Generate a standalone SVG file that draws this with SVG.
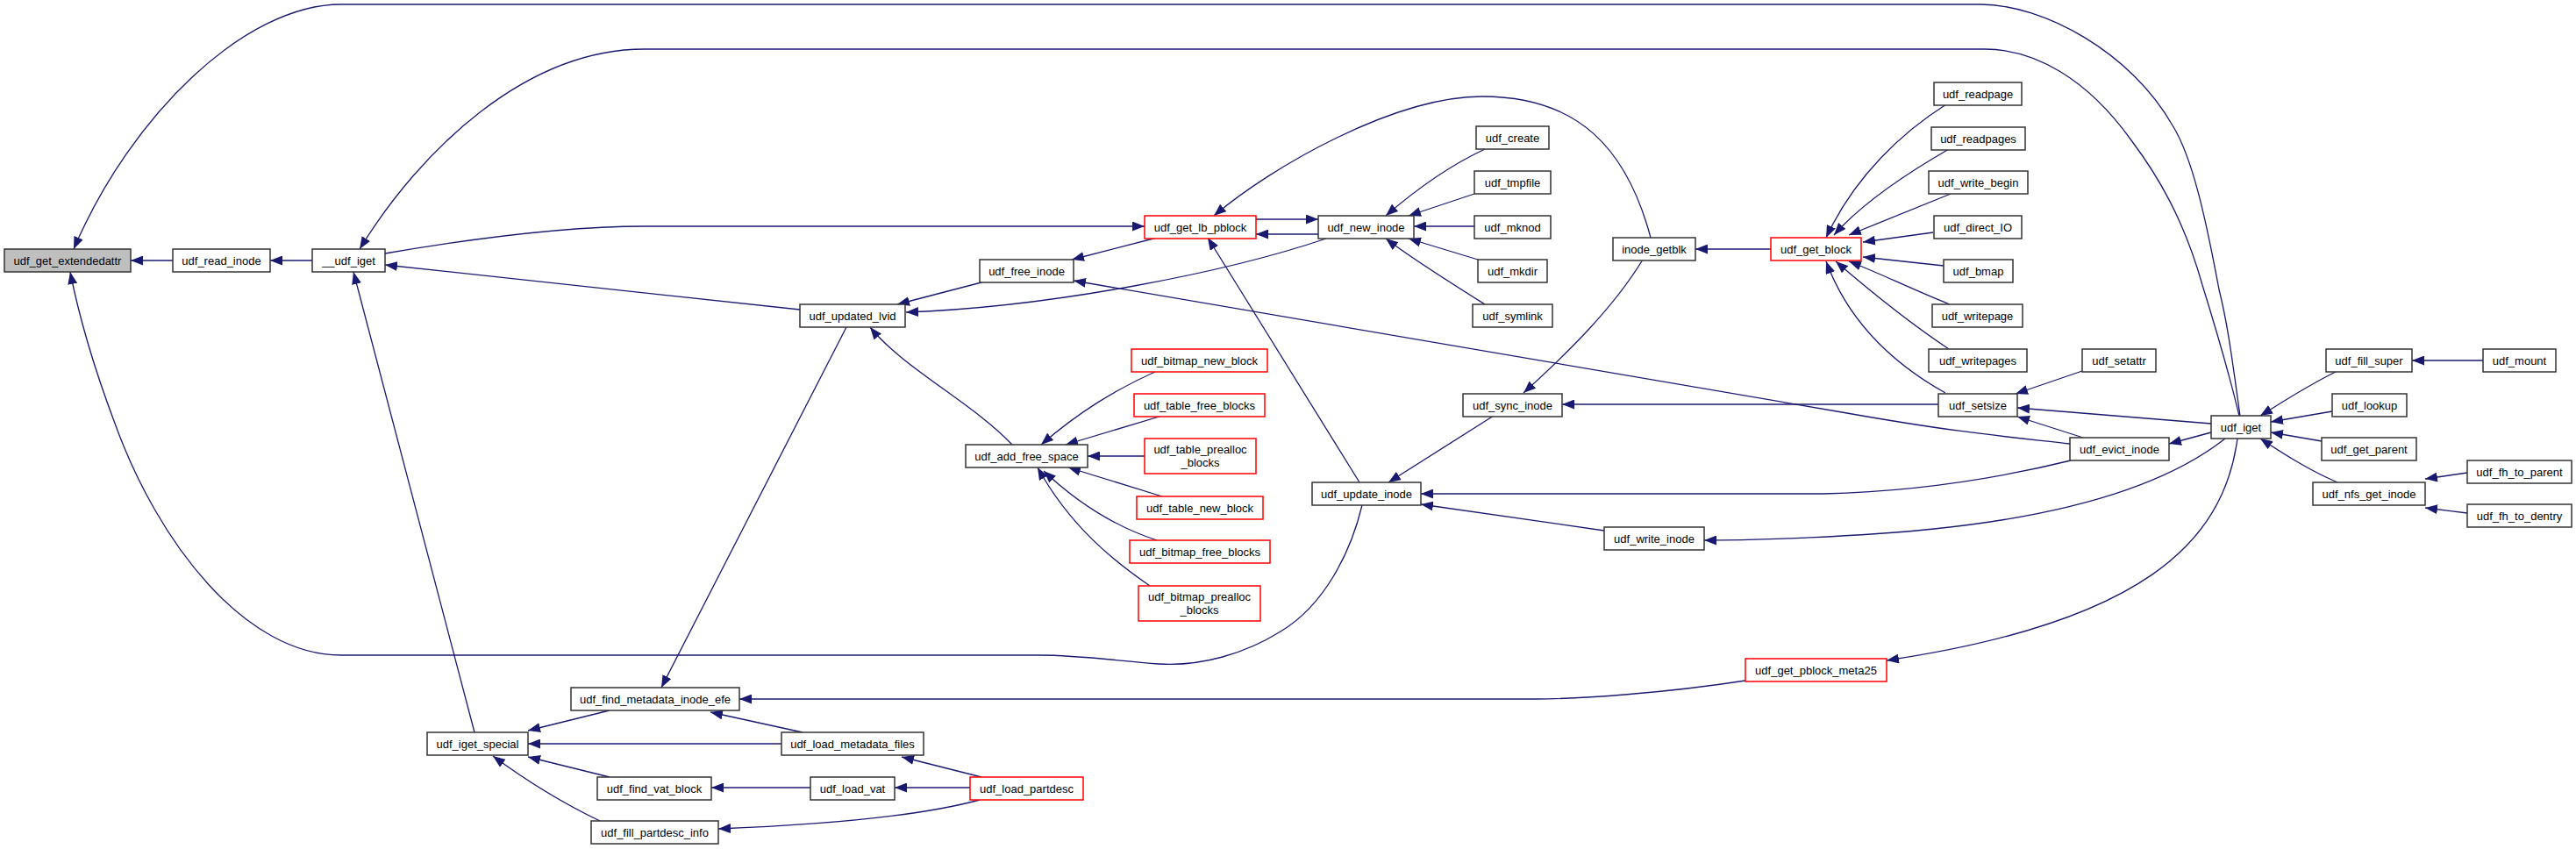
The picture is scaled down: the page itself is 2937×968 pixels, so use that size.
<svg xmlns="http://www.w3.org/2000/svg" width="2937" height="968" viewBox="0 0 2937 968">
<defs>
<style>
.n rect{fill:#fff;stroke:#333;stroke-width:1.5}
.n.r rect{stroke:#ff0000}
.n.g rect{fill:#bfbfbf}
.n text{font-family:"Liberation Sans",Arial,sans-serif;font-size:13px;fill:#000;text-anchor:middle}
#edges path{fill:none;stroke:#191970;stroke-width:1.3;marker-end:url(#a)}
</style>
<marker id="a" markerUnits="userSpaceOnUse" markerWidth="14" markerHeight="11" viewBox="0 0 14 11" refX="14" refY="5.5" orient="auto"><path d="M0,0L14,5.5L0,11z" fill="#191970"/></marker>
</defs>
<rect width="2937" height="968" fill="#fff"/>
<g id="edges">
<path d="M197,297L149,297"/>
<path d="M356,297L308,297"/>
<path d="M2554,474C2545,410 2540,370 2530,330C2515,250 2500,180 2477,143C2430,60 2330,5 2258,5L389,5C280,5 150,130 84,284"/>
<path d="M2553,474C2540,420 2525,370 2511,325C2490,250 2460,200 2430,160C2380,90 2320,56 2263,56L735,56C600,56 480,170 410,284"/>
<path d="M439,289C550,270 650,258 735,258L1305,258"/>
<path d="M912,353L439,302"/>
<path d="M1553,576C1540,630 1510,690 1460,720C1420,745 1370,760 1321,757C1270,753 1230,747 1185,747L389,747C280,747 180,620 130,480C100,400 88,350 80,310"/>
<path d="M541,835L403,310"/>
<path d="M1503,267L1432,267"/>
<path d="M1432,250L1503,250"/>
<path d="M1882,271C1855,170 1800,110 1690,110C1590,110 1450,190 1384,246"/>
<path d="M1319,271L1222,296"/>
<path d="M2360,506C2280,497 2230,493 2100,470L1224,320"/>
<path d="M1512,272C1400,310 1200,350 1033,356"/>
<path d="M1119,322L1023,347"/>
<path d="M965,373L754,784"/>
<path d="M1154,507C1110,460 1030,420 992,373"/>
<path d="M1319,423C1270,445 1230,470 1187,507"/>
<path d="M1325,474L1215,507"/>
<path d="M1305,520L1240,520"/>
<path d="M1325,566L1218,533"/>
<path d="M1319,616C1270,600 1225,570 1190,537"/>
<path d="M1311,668C1270,640 1220,600 1183,533"/>
<path d="M1550,550L1377,271"/>
<path d="M1703,474L1583,550"/>
<path d="M1873,296C1840,350 1790,400 1737,448"/>
<path d="M2019,284L1933,284"/>
<path d="M2210,461L1781,461"/>
<path d="M2361,525C2300,540 2200,560 2079,563L1620,563"/>
<path d="M1829,605L1620,575"/>
<path d="M2537,500C2480,545 2380,585 2205,603C2120,612 2000,616 1943,616"/>
<path d="M695,810L602,833"/>
<path d="M891,848L602,848"/>
<path d="M695,886L602,863"/>
<path d="M684,936C640,915 600,890 562,862"/>
<path d="M1990,776C1900,790 1800,797 1751,797L843,797"/>
<path d="M915,835L810,812"/>
<path d="M1119,886L1028,863"/>
<path d="M924,898L811,898"/>
<path d="M1106,898L1020,898"/>
<path d="M1117,912C1050,930 950,940 819,945"/>
<path d="M2551,500C2535,620 2440,710 2151,753"/>
<path d="M2219,119C2170,150 2115,200 2082,271"/>
<path d="M2222,170C2170,200 2120,235 2091,268"/>
<path d="M2224,221L2108,268"/>
<path d="M2204,265L2124,276"/>
<path d="M2216,303L2124,293"/>
<path d="M2223,347C2180,330 2140,310 2108,298"/>
<path d="M2222,398C2180,370 2130,330 2093,298"/>
<path d="M2218,448C2150,410 2105,360 2082,298"/>
<path d="M2374,423L2298,449"/>
<path d="M2521,483L2300,465"/>
<path d="M2375,499L2300,475"/>
<path d="M2521,493L2473,506"/>
<path d="M2665,423C2630,440 2600,460 2577,474"/>
<path d="M2659,469L2589,481"/>
<path d="M2647,503L2589,493"/>
<path d="M2665,550C2630,535 2600,515 2577,500"/>
<path d="M2831,411L2750,411"/>
<path d="M2813,539L2765,546"/>
<path d="M2813,585L2765,579"/>
<path d="M1693,170C1650,190 1610,220 1580,246"/>
<path d="M1681,221L1606,246"/>
<path d="M1681,258L1612,258"/>
<path d="M1685,296L1606,272"/>
<path d="M1693,347C1650,320 1610,295 1580,272"/>
</g>
<g id="udf_get_extendedattr" class="n g"><rect x="5" y="284" width="144" height="26"/><text x="77" y="301.5">udf_get_extendedattr</text></g>
<g id="udf_read_inode" class="n"><rect x="197" y="284" width="111" height="26"/><text x="252.5" y="301.5">udf_read_inode</text></g>
<g id="__udf_iget" class="n"><rect x="356" y="284" width="83" height="26"/><text x="397.5" y="301.5">__udf_iget</text></g>
<g id="udf_iget_special" class="n"><rect x="487" y="835" width="115" height="26"/><text x="544.5" y="852.5">udf_iget_special</text></g>
<g id="udf_find_metadata_inode_efe" class="n"><rect x="651" y="784" width="192" height="26"/><text x="747" y="801.5">udf_find_metadata_inode_efe</text></g>
<g id="udf_find_vat_block" class="n"><rect x="681" y="886" width="130" height="26"/><text x="746" y="903.5">udf_find_vat_block</text></g>
<g id="udf_fill_partdesc_info" class="n"><rect x="674" y="936" width="145" height="26"/><text x="746.5" y="953.5">udf_fill_partdesc_info</text></g>
<g id="udf_get_lb_pblock" class="n r"><rect x="1305" y="246" width="127" height="26"/><text x="1368.5" y="263.5">udf_get_lb_pblock</text></g>
<g id="udf_free_inode" class="n"><rect x="1117" y="296" width="107" height="26"/><text x="1170.5" y="313.5">udf_free_inode</text></g>
<g id="udf_updated_lvid" class="n"><rect x="912" y="347" width="120" height="26"/><text x="972" y="364.5">udf_updated_lvid</text></g>
<g id="udf_add_free_space" class="n"><rect x="1101" y="507" width="139" height="26"/><text x="1170.5" y="524.5">udf_add_free_space</text></g>
<g id="udf_bitmap_new_block" class="n r"><rect x="1290" y="398" width="155" height="26"/><text x="1367.5" y="415.5">udf_bitmap_new_block</text></g>
<g id="udf_table_free_blocks" class="n r"><rect x="1293" y="449" width="149" height="26"/><text x="1367.5" y="466.5">udf_table_free_blocks</text></g>
<g id="udf_table_prealloc_blocks" class="n r"><rect x="1305" y="500" width="127" height="40"/><text x="1368.5" y="516.5">udf_table_prealloc</text><text x="1368.5" y="531.5">_blocks</text></g>
<g id="udf_table_new_block" class="n r"><rect x="1296" y="566" width="144" height="26"/><text x="1368" y="583.5">udf_table_new_block</text></g>
<g id="udf_bitmap_free_blocks" class="n r"><rect x="1288" y="616" width="160" height="26"/><text x="1368" y="633.5">udf_bitmap_free_blocks</text></g>
<g id="udf_bitmap_prealloc_blocks" class="n r"><rect x="1298" y="668" width="139" height="40"/><text x="1367.5" y="684.5">udf_bitmap_prealloc</text><text x="1367.5" y="699.5">_blocks</text></g>
<g id="udf_load_metadata_files" class="n"><rect x="891" y="835" width="162" height="26"/><text x="972" y="852.5">udf_load_metadata_files</text></g>
<g id="udf_load_vat" class="n"><rect x="924" y="886" width="96" height="26"/><text x="972" y="903.5">udf_load_vat</text></g>
<g id="udf_load_partdesc" class="n r"><rect x="1106" y="886" width="129" height="26"/><text x="1170.5" y="903.5">udf_load_partdesc</text></g>
<g id="udf_get_pblock_meta25" class="n r"><rect x="1990" y="751" width="161" height="26"/><text x="2070.5" y="768.5">udf_get_pblock_meta25</text></g>
<g id="udf_new_inode" class="n"><rect x="1503" y="246" width="109" height="26"/><text x="1557.5" y="263.5">udf_new_inode</text></g>
<g id="udf_create" class="n"><rect x="1683" y="144" width="83" height="26"/><text x="1724.5" y="161.5">udf_create</text></g>
<g id="udf_tmpfile" class="n"><rect x="1681" y="195" width="87" height="26"/><text x="1724.5" y="212.5">udf_tmpfile</text></g>
<g id="udf_mknod" class="n"><rect x="1681" y="246" width="87" height="26"/><text x="1724.5" y="263.5">udf_mknod</text></g>
<g id="udf_mkdir" class="n"><rect x="1685" y="296" width="79" height="26"/><text x="1724.5" y="313.5">udf_mkdir</text></g>
<g id="udf_symlink" class="n"><rect x="1679" y="347" width="91" height="26"/><text x="1724.5" y="364.5">udf_symlink</text></g>
<g id="inode_getblk" class="n"><rect x="1839" y="271" width="94" height="26"/><text x="1886" y="288.5">inode_getblk</text></g>
<g id="udf_get_block" class="n r"><rect x="2019" y="271" width="103" height="26"/><text x="2070.5" y="288.5">udf_get_block</text></g>
<g id="udf_sync_inode" class="n"><rect x="1668" y="449" width="113" height="26"/><text x="1724.5" y="466.5">udf_sync_inode</text></g>
<g id="udf_update_inode" class="n"><rect x="1496" y="550" width="124" height="26"/><text x="1558" y="567.5">udf_update_inode</text></g>
<g id="udf_write_inode" class="n"><rect x="1829" y="601" width="114" height="26"/><text x="1886" y="618.5">udf_write_inode</text></g>
<g id="udf_readpage" class="n"><rect x="2205" y="94" width="100" height="26"/><text x="2255" y="111.5">udf_readpage</text></g>
<g id="udf_readpages" class="n"><rect x="2202" y="145" width="107" height="26"/><text x="2255.5" y="162.5">udf_readpages</text></g>
<g id="udf_write_begin" class="n"><rect x="2199" y="195" width="113" height="26"/><text x="2255.5" y="212.5">udf_write_begin</text></g>
<g id="udf_direct_IO" class="n"><rect x="2205" y="246" width="100" height="26"/><text x="2255" y="263.5">udf_direct_IO</text></g>
<g id="udf_bmap" class="n"><rect x="2216" y="296" width="79" height="26"/><text x="2255.5" y="313.5">udf_bmap</text></g>
<g id="udf_writepage" class="n"><rect x="2203" y="347" width="103" height="26"/><text x="2254.5" y="364.5">udf_writepage</text></g>
<g id="udf_writepages" class="n"><rect x="2199" y="398" width="112" height="26"/><text x="2255" y="415.5">udf_writepages</text></g>
<g id="udf_setsize" class="n"><rect x="2210" y="449" width="90" height="26"/><text x="2255" y="466.5">udf_setsize</text></g>
<g id="udf_setattr" class="n"><rect x="2374" y="398" width="84" height="26"/><text x="2416" y="415.5">udf_setattr</text></g>
<g id="udf_evict_inode" class="n"><rect x="2360" y="499" width="113" height="26"/><text x="2416.5" y="516.5">udf_evict_inode</text></g>
<g id="udf_iget" class="n"><rect x="2521" y="474" width="68" height="26"/><text x="2555" y="491.5">udf_iget</text></g>
<g id="udf_fill_super" class="n"><rect x="2652" y="398" width="98" height="26"/><text x="2701" y="415.5">udf_fill_super</text></g>
<g id="udf_mount" class="n"><rect x="2831" y="398" width="83" height="26"/><text x="2872.5" y="415.5">udf_mount</text></g>
<g id="udf_lookup" class="n"><rect x="2659" y="449" width="85" height="26"/><text x="2701.5" y="466.5">udf_lookup</text></g>
<g id="udf_get_parent" class="n"><rect x="2647" y="499" width="108" height="26"/><text x="2701" y="516.5">udf_get_parent</text></g>
<g id="udf_nfs_get_inode" class="n"><rect x="2637" y="550" width="128" height="26"/><text x="2701" y="567.5">udf_nfs_get_inode</text></g>
<g id="udf_fh_to_parent" class="n"><rect x="2813" y="525" width="119" height="26"/><text x="2872.5" y="542.5">udf_fh_to_parent</text></g>
<g id="udf_fh_to_dentry" class="n"><rect x="2813" y="575" width="119" height="26"/><text x="2872.5" y="592.5">udf_fh_to_dentry</text></g>
</svg>
